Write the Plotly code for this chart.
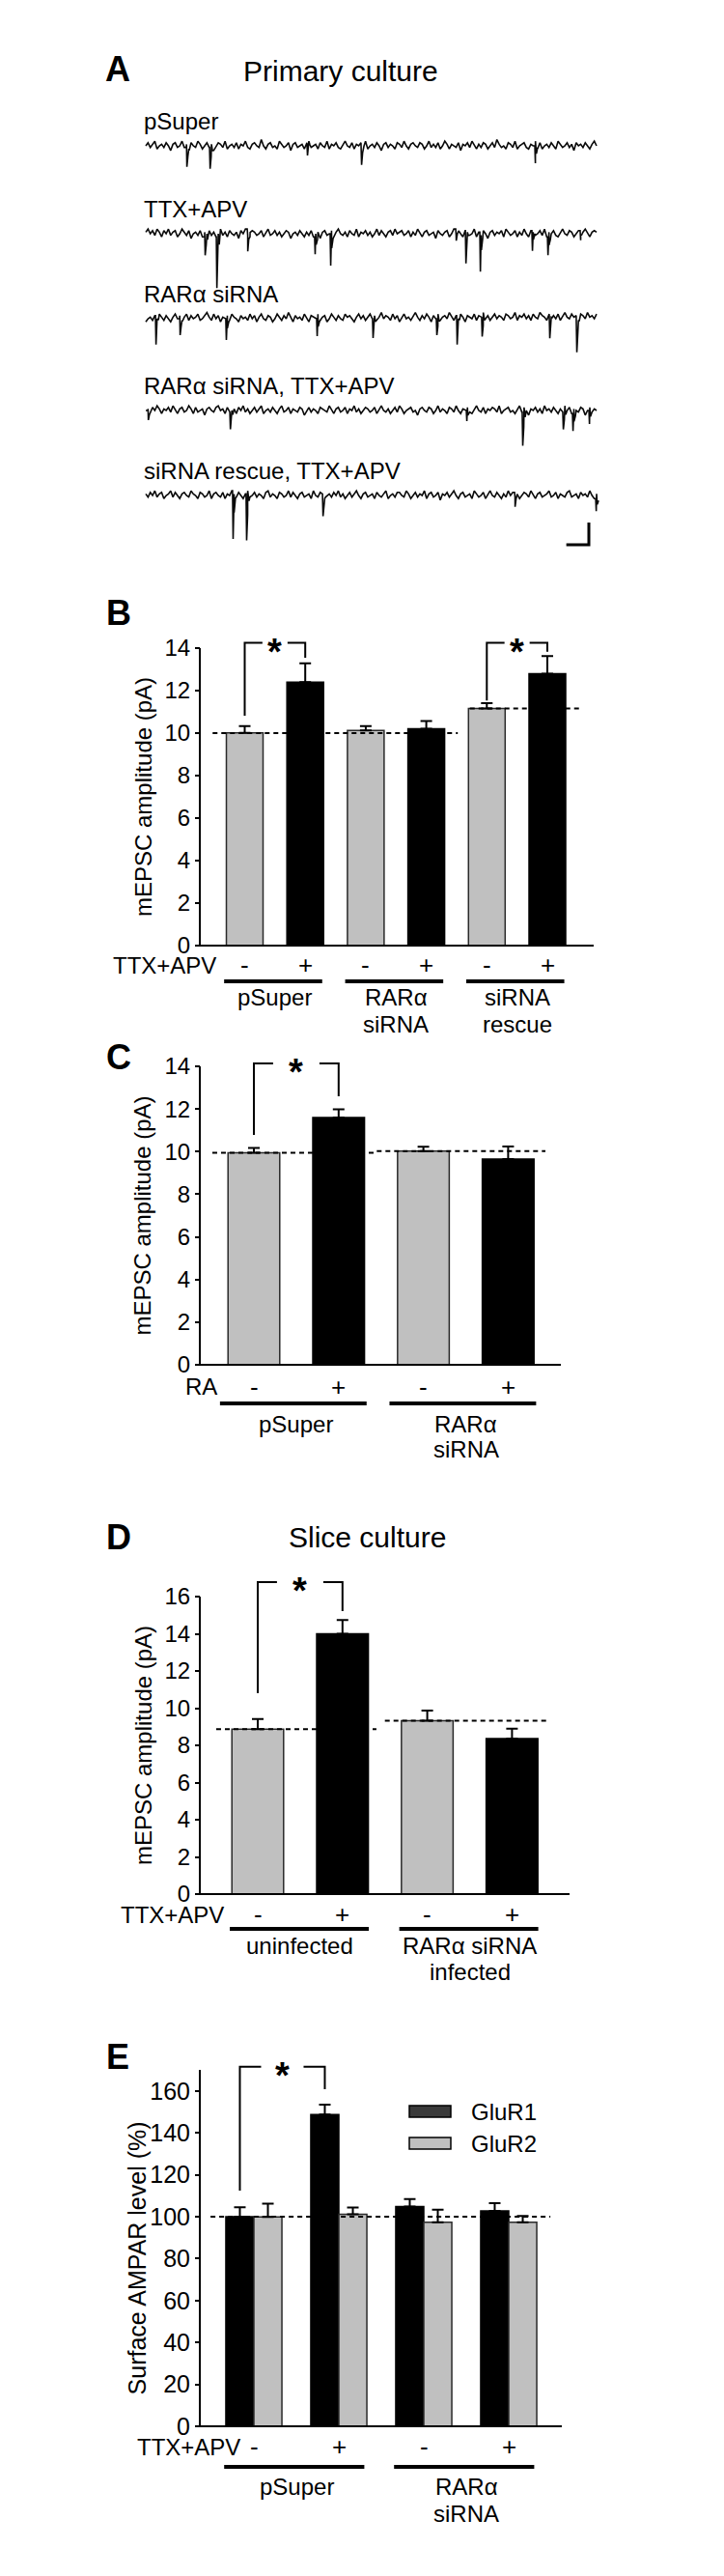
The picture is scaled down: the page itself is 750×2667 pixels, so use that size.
import plotly.graph_objects as go

W, H = 750, 2667
FONT = "Liberation Sans, Arial, Helvetica, sans-serif"
INK = "black"
GREY = "#c0c0c0"
GREY_EDGE = "#2a2a2a"

# ======================= DATA =======================
# Panel A: example mEPSC sweeps (20 s). Baseline jitter in 0.7 pA units, events (s, pA)
trace_labels = ["pSuper", "TTX+APV", "RARα siRNA", "RARα siRNA, TTX+APV", "siRNA rescue, TTX+APV"]
sweep_s = 20.0
noise_unit_pA = 0.7
noise_pSuper = [0,2,-1,1,3,-2,0,1,-1,2,0,-3,1,2,-1,0,3,-1,1,-2,
                2,0,-1,3,1,-2,0,2,-1,1,-3,0,2,1,-1,3,-2,0,1,-1,
                2,-2,1,0,3,-1,-2,1,2,0,-1,4,0,-2,1,2,-1,0,-2,3,
                1,-1,0,2,-3,1,2,-1,0,1,-2,2,3,-1,0,1,-2,2,0,-1,
                3,-2,1,0,2,-1,-2,1,3,0,-1,2,-2,1,0,2,-1,3,-2,0,
                1,-1,2,0,-3,1,2,-1,1,0,-2,2,1,-1,3,0,-2,1,2,0,
                -1,2,1,-2,0,3,-1,1,-1,2,-2,0,3,1,-2,1,0,-1,2,-3,
                1,0,2,-1,3,0,-2,1,-1,2,1,-2,0,2,-1,4,1,-1,0,-2,
                2,1,-1,3,-2,0,1,2,-1,-2,1,0,3,-1,2,-2,0,1,-1,2,
                0,-2,3,1,-1,0,2,-1,1,-3,2,0,1,-1,2,0,-2,1,3,0]
noise_ttx = [1,3,0,2,-1,3,1,-2,2,0,3,-1,1,2,-2,0,3,1,-1,2,
             -3,0,1,-1,2,-2,1,0,2,-1,1,-2,0,3,-1,1,-2,2,0,-1,
             1,-3,2,0,3,-1,-2,2,1,-1,0,2,-2,1,3,-1,0,2,-1,1,
             -2,0,2,1,-3,0,1,-1,2,0,-2,1,-1,2,-2,0,1,-3,1,2,
             -1,0,2,-2,1,3,0,-1,1,-2,2,0,-1,3,-2,1,0,2,-1,1,
             -2,0,3,-1,2,0,-2,1,2,-1,3,0,1,2,-1,0,2,-2,1,-1,
             3,0,-2,1,2,-1,0,1,-3,2,0,-1,1,2,-2,0,3,-1,1,0,
             -2,2,1,-1,0,3,-2,1,-1,2,0,-3,1,2,-1,1,0,2,-2,3,
             1,-1,0,2,-2,1,-1,3,0,-2,2,1,-1,0,2,-1,3,-2,1,0,
             2,-1,-2,1,3,0,-1,2,1,-2,0,2,-1,1,3,0,-2,1,2,1]
noise_sirna = [-2,0,1,-1,2,0,3,1,-1,2,0,-2,1,3,0,2,-1,1,3,-1,
               2,0,1,3,-1,0,2,4,1,-1,3,0,2,-2,1,0,2,-1,3,1,
               0,-2,2,0,1,-1,3,0,2,-2,1,3,0,-1,2,1,-2,0,3,1,
               -1,2,0,4,1,-2,2,0,1,-1,3,0,-2,2,1,0,3,-1,1,2,
               -2,0,3,1,-1,2,0,-1,3,1,2,0,-2,1,3,0,2,-1,1,3,
               0,2,-1,1,4,0,2,1,-1,3,0,2,-2,1,3,0,1,-1,2,4,
               1,-1,2,0,3,1,-2,2,0,3,-1,1,2,0,4,1,-1,2,0,3,
               1,-2,2,1,0,3,-1,2,1,4,0,2,-1,1,3,0,2,1,-1,3,
               2,0,1,4,-1,2,1,3,0,2,-1,3,1,0,4,2,1,-1,3,1,
               2,0,3,-1,2,4,1,0,3,1,2,-1,3,2,0,4,1,2,0,3]
noise_sirna_ttx = [0,1,-1,2,0,3,1,-2,1,0,2,-1,3,0,-2,1,2,-1,0,3,
                   1,-2,2,-1,0,1,-3,1,2,0,-1,2,3,0,1,-2,2,-1,0,1,
                   -2,2,0,3,-1,1,-2,0,2,-1,1,3,-2,0,1,-1,2,0,-2,1,
                   3,-1,0,2,-2,1,0,-1,2,1,-3,0,2,-1,1,0,-2,2,1,0,
                   -1,3,0,-2,1,2,-1,0,2,-2,1,0,3,-1,1,-2,0,2,1,-1,
                   0,2,-2,1,3,0,-1,1,-2,0,2,-1,3,1,-2,0,1,2,-1,0,
                   -3,1,2,0,-1,2,1,-2,0,3,-1,1,0,-2,2,1,-1,3,0,-2,
                   1,0,2,-1,-2,1,3,0,-1,2,-2,1,0,2,1,-1,3,-2,0,1,
                   2,-1,0,-2,1,3,-1,2,0,-3,1,0,2,-1,1,-2,3,0,1,-1,
                   2,0,-2,1,-1,3,0,2,-2,1,0,-1,2,1,-3,0,2,-1,1,0]
noise_rescue_ttx = [1,-1,2,0,3,-1,1,2,-2,0,1,3,-1,2,0,-2,1,2,0,-1,
                    3,1,0,-2,2,1,-1,0,3,-2,1,2,0,-1,2,-2,1,0,3,1,
                    -1,2,0,-2,1,3,-1,0,2,-1,1,0,-2,2,3,-1,1,0,-2,2,
                    1,-1,0,3,-1,2,0,-2,1,2,-1,0,1,-2,3,0,-1,2,1,-2,
                    0,1,-1,2,0,3,-1,1,-2,0,2,-1,1,3,0,-2,1,2,-1,0,
                    1,-2,2,0,-1,1,3,-2,0,1,-1,2,2,0,-1,3,1,-2,0,2,
                    -1,1,0,3,-2,1,2,-1,0,2,-3,1,0,2,-1,1,3,0,-2,1,
                    2,-1,0,1,-2,3,1,-1,0,2,-2,1,3,0,-1,2,0,-2,1,-1,
                    3,0,2,-1,1,-2,0,2,1,-1,3,0,-2,1,2,-1,0,1,3,-1,
                    0,2,-2,1,0,-1,2,3,-1,0,1,-2,2,0,1,-1,3,0,-2,1]
ev_t_pSuper = [1.80, 2.83, 7.15, 9.55, 17.26]
ev_a_pSuper = [8.7, 9.6, 5.7, 10.0, 7.8]
ev_t_ttx = [2.61, 3.13, 4.50, 7.49, 8.18, 13.75, 14.18, 14.82, 17.13, 17.82, 19.27]
ev_a_ttx = [8.3, 23.0, 10.0, 7.8, 14.3, 5.2, 14.8, 17.8, 9.1, 8.3, 4.3]
ev_t_sirna = [0.43, 1.50, 3.55, 7.58, 10.06, 12.89, 13.79, 14.90, 17.90, 19.10]
ev_a_sirna = [13.0, 7.4, 9.6, 7.8, 8.7, 7.4, 13.0, 8.7, 10.9, 16.5]
ev_t_sirna_ttx = [0.09, 3.73, 14.22, 16.70, 18.50, 18.93, 19.66]
ev_a_sirna_ttx = [4.3, 7.8, 4.8, 15.2, 7.8, 7.8, 6.1]
ev_t_rescue_ttx = [3.85, 4.45, 7.84, 16.36, 19.96]
ev_a_rescue_ttx = [21.7, 20.9, 10.0, 6.5, 5.7]
scalebar_pA = 10
scalebar_s = 1

# Panel B
b_cond = ["-", "+", "-", "+", "-", "+"]
b_groups = [["pSuper"], ["RARα", "siRNA"], ["siRNA", "rescue"]]
b_mean = [10.01, 12.40, 10.13, 10.21, 11.16, 12.79]
b_sem = [0.32, 0.88, 0.20, 0.36, 0.25, 0.83]
b_control = [10.0, 11.16]
b_ticks = [0, 2, 4, 6, 8, 10, 12, 14]

# Panel C
c_cond = ["-", "+", "-", "+"]
c_groups = [["pSuper"], ["RARα", "siRNA"]]
c_mean = [9.94, 11.60, 10.02, 9.65]
c_sem = [0.23, 0.38, 0.21, 0.59]
c_control = [9.94, 10.02]
c_ticks = [0, 2, 4, 6, 8, 10, 12, 14]

# Panel D
d_cond = ["-", "+", "-", "+"]
d_groups = [["uninfected"], ["RARα siRNA", "infected"]]
d_mean = [8.87, 14.00, 9.33, 8.36]
d_sem = [0.54, 0.74, 0.54, 0.54]
d_control = [8.87, 9.33]
d_ticks = [0, 2, 4, 6, 8, 10, 12, 14, 16]

# Panel E
e_cond = ["-", "+", "-", "+"]
e_groups = [["pSuper"], ["RARα", "siRNA"]]
e_series = ["GluR1", "GluR2"]
e_glur1 = [100.0, 148.7, 104.8, 102.8]
e_glur1_sem = [4.5, 4.8, 3.6, 3.7]
e_glur2 = [99.9, 101.2, 97.3, 97.3]
e_glur2_sem = [6.3, 3.2, 6.0, 3.0]
e_control = 100
e_ticks = [0, 20, 40, 60, 80, 100, 120, 140, 160]

# ======================= LAYOUT GEOMETRY =======================
AXIS_PX = 199  # y-axis line position (px)


class Panel:
    def __init__(self, n, x0, step, y0, ppu, ytop, ybot, xdom=(100, 640)):
        self.n, self.x0, self.step, self.y0, self.ppu = n, x0, step, y0, ppu
        self.ytop, self.ybot, self.xdom = ytop, ybot, xdom
        self.xa = "x" if n == 1 else "x%d" % n
        self.ya = "y" if n == 1 else "y%d" % n

    def ux(self, px):
        return (px - self.x0) / self.step

    def vy(self, py):
        return (self.y0 - py) / self.ppu

    def dy(self, dpx):  # pixel distance below zero line -> data value
        return -dpx / self.ppu


layout_axes = {}
shapes = []
annos = []


def make_axes(p, tickvals=None, tick_size=24):
    xk = "xaxis" if p.n == 1 else "xaxis%d" % p.n
    yk = "yaxis" if p.n == 1 else "yaxis%d" % p.n
    layout_axes[xk] = dict(domain=[p.xdom[0] / W, p.xdom[1] / W],
                           range=[p.ux(p.xdom[0]), p.ux(p.xdom[1])],
                           visible=False, anchor=p.ya, fixedrange=True)
    yd = dict(domain=[1 - p.ybot / H, 1 - p.ytop / H],
              range=[p.vy(p.ybot), p.vy(p.ytop)], fixedrange=True,
              showgrid=False, zeroline=False, showline=False)
    if tickvals is None:
        yd.update(visible=False, anchor=p.xa)
    else:
        yd.update(anchor="free", position=AXIS_PX / W, ticks="outside", ticklen=5,
                  tickwidth=2, tickcolor=INK, tickvals=tickvals,
                  tickfont=dict(family=FONT, size=tick_size, color=INK))
    layout_axes[yk] = yd


def line(p, x0, y0, x1, y1, width=2, dash=None, color=INK):
    d = dict(type="line", xref=p.xa, yref=p.ya, x0=x0, y0=y0, x1=x1, y1=y1,
             line=dict(color=color, width=width))
    if dash:
        d["line"]["dash"] = dash
    shapes.append(d)


def text(p, x, y, s, size=24, xanchor="center", bold=False, yshift=0, angle=0, xref=None):
    annos.append(dict(x=x, y=y, xref=xref or p.xa, yref=p.ya, text=("<b>%s</b>" % s) if bold else s,
                      showarrow=False, xanchor=xanchor, yanchor="middle", yshift=yshift,
                      textangle=angle, borderpad=0,
                      font=dict(family=FONT, size=size, color=INK)))


def paper_text(xpx, ypx, s, size, bold=False):
    annos.append(dict(x=xpx / W, y=1 - ypx / H, xref="paper", yref="paper",
                      text=("<b>%s</b>" % s) if bold else s, showarrow=False,
                      xanchor="center", yanchor="middle",
                      font=dict(family=FONT, size=size, color=INK)))


def frame(p, top, xend_px):
    ax = p.ux(AXIS_PX)
    line(p, ax, 0, ax, top)
    line(p, p.ux(AXIS_PX - 5), 0, p.ux(xend_px), 0)


def bracket(p, xl, xr, ybl, ytop, ybr, gap_px, star_size=38):
    mid = (xl + xr) / 2
    g = gap_px / p.step
    fig.add_trace(go.Scatter(x=[xl, xl, mid - g, None, mid + g, xr, xr],
                             y=[ybl, ytop, ytop, None, ytop, ytop, ybr],
                             mode="lines", line=dict(color=INK, width=2),
                             xaxis=p.xa, yaxis=p.ya, showlegend=False, hoverinfo="skip"))
    text(p, mid, ytop, "*", size=star_size, bold=True, yshift=-9)


def row_labels(p, cond, positions, row_name, name_right_px, row_dpx, size=26):
    y = p.dy(row_dpx)
    text(p, p.ux(name_right_px), y, row_name, size=24, xanchor="right")
    for xi, c in zip(positions, cond):
        text(p, xi, y, c, size=size)


def group_labels(p, groups, line_dpx, l1_dpx, l2_dpx, pad_l, pad_r):
    for gi, g in enumerate(groups):
        a, b = 2 * gi, 2 * gi + 1
        line(p, a - pad_l, p.dy(line_dpx), b + pad_r, p.dy(line_dpx), width=4)
        c = (a + b) / 2
        text(p, c, p.dy(l1_dpx), g[0])
        if len(g) > 1:
            text(p, c, p.dy(l2_dpx), g[1])


fig = go.Figure()

# ======================= PANEL A =======================
pa = Panel(1, 143, 467 / sweep_s, 143, 2.3, 85, 598)
make_axes(pa)
trace_rows_px = [143, 234, 322, 417, 505]
EVENT_SHAPE = [(0.0, 0.0), (0.025, 1.0), (0.07, 0.45), (0.13, 0.15)]
sweeps = [(noise_pSuper, ev_t_pSuper, ev_a_pSuper),
          (noise_ttx, ev_t_ttx, ev_a_ttx),
          (noise_sirna, ev_t_sirna, ev_a_sirna),
          (noise_sirna_ttx, ev_t_sirna_ttx, ev_a_sirna_ttx),
          (noise_rescue_ttx, ev_t_rescue_ttx, ev_a_rescue_ttx)]
for (noise, evt, eva), row_px, lab in zip(sweeps, trace_rows_px, trace_labels):
    off = pa.vy(row_px)
    n = len(noise)
    dt = sweep_s / (n - 1)
    pts = [(i * dt, off + noise_unit_pA * v) for i, v in enumerate(noise)]
    for te, amp in zip(evt, eva):
        i = min(int(te / dt), n - 1)
        base = off + noise_unit_pA * noise[i]
        for ds, frac in EVENT_SHAPE:
            pts.append((te + ds, base - amp * frac))
    pts.sort(key=lambda q: q[0])
    fig.add_trace(go.Scatter(x=[q[0] for q in pts], y=[q[1] for q in pts], mode="lines",
                             line=dict(color="#0a0a0a", width=1.6), xaxis=pa.xa, yaxis=pa.ya,
                             showlegend=False, hoverinfo="skip"))
    text(pa, pa.ux(140), pa.vy(row_px - 25), lab, size=24, xanchor="left")
# scale bar
sb_x = pa.ux(602)
sb_y = pa.vy(556)
fig.add_trace(go.Scatter(x=[sb_x - scalebar_s, sb_x, sb_x], y=[sb_y, sb_y, sb_y + scalebar_pA],
                         mode="lines", line=dict(color=INK, width=3), xaxis=pa.xa, yaxis=pa.ya,
                         showlegend=False, hoverinfo="skip"))
paper_text(114, 64, "A", 36, bold=True)
paper_text(345, 65, "Primary culture", 30)


def simple_bars(p, cond, mean, sem, width):
    xs = list(range(len(mean)))
    cols = [GREY if c == "-" else INK for c in cond]
    edges = [GREY_EDGE if c == "-" else INK for c in cond]
    fig.add_trace(go.Bar(x=xs, y=mean, width=width,
                         marker=dict(color=cols, line=dict(color=edges, width=1.5)),
                         error_y=dict(type="data", symmetric=False, array=sem,
                                      arrayminus=[0] * len(sem), color=INK, thickness=2, width=6),
                         xaxis=p.xa, yaxis=p.ya, showlegend=False, hoverinfo="skip"))
    return xs


# ======================= PANEL B =======================
pb = Panel(2, 245.5, 62.7, 971, 22.0, 600, 1064)
make_axes(pb, b_ticks)
xs = simple_bars(pb, b_cond, b_mean, b_sem, 0.606)
frame(pb, b_ticks[-1], 607)
for lvl, (xa, xb) in zip(b_control, [(-0.53, 3.52), (3.72, 5.54)]):
    line(pb, xa, lvl, xb, lvl, dash="5px,4px")
bracket(pb, 0, 1, 10.82, 14.25, 13.55, 13)
bracket(pb, 4, 5, 11.53, 14.25, 13.83, 13)
row_labels(pb, b_cond, xs, "TTX+APV", 217, 20)
group_labels(pb, b_groups, 37, 53, 81, 0.34, 0.28)
text(pb, 140 / W, b_ticks[-1] / 2, "mEPSC amplitude (pA)", size=24, angle=-90, xref="paper")
paper_text(115, 626, "B", 36, bold=True)

# ======================= PANEL C =======================
pc = Panel(3, 255, 87.8, 1405, 22.07, 1066, 1530)
make_axes(pc, c_ticks)
xs = simple_bars(pc, c_cond, c_mean, c_sem, 0.61)
frame(pc, c_ticks[-1], 573)
for lvl, (xa, xb) in zip(c_control, [(-0.49, 1.45), (1.45, 3.44)]):
    line(pc, xa, lvl, xb, lvl, dash="5px,4px")
bracket(pc, 0, 1, 10.78, 14.14, 12.6, 24)
row_labels(pc, c_cond, xs, "RA", 218, 23)
group_labels(pc, c_groups, 40, 62, 88, 0.4, 0.33)
text(pc, 140 / W, c_ticks[-1] / 2, "mEPSC amplitude (pA)", size=24, angle=-90, xref="paper")
paper_text(115, 1086, "C", 36, bold=True)

# ======================= PANEL D =======================
pd_ = Panel(4, 259, 87.8, 1953, 19.25, 1540, 2062)
make_axes(pd_, d_ticks)
xs = simple_bars(pd_, d_cond, d_mean, d_sem, 0.61)
frame(pd_, d_ticks[-1], 582)
for lvl, (xa, xb) in zip(d_control, [(-0.49, 1.40), (1.50, 3.42)]):
    line(pd_, xa, lvl, xb, lvl, dash="5px,4px")
bracket(pd_, 0, 1, 10.81, 16.78, 15.22, 24)
row_labels(pd_, d_cond, xs, "TTX+APV", 225, 21)
group_labels(pd_, d_groups, 36, 53, 80, 0.33, 0.31)
text(pd_, 140 / W, d_ticks[-1] / 2, "mEPSC amplitude (pA)", size=24, angle=-90, xref="paper")
paper_text(115, 1583, "D", 36, bold=True)
paper_text(372, 1583, "Slice culture", 30)

# ======================= PANEL E =======================
pe = Panel(5, 255, 88.0, 2504, 2.17, 2064, 2640)
make_axes(pe, e_ticks, tick_size=25)
xs = list(range(len(e_glur1)))
bw = 0.33
fig.add_trace(go.Bar(x=xs, y=e_glur1, width=bw, offset=-bw,
                     marker=dict(color=INK, line=dict(color=INK, width=1.5)),
                     error_y=dict(type="data", symmetric=False, array=e_glur1_sem,
                                  arrayminus=[0] * 4, color=INK, thickness=2, width=6),
                     xaxis=pe.xa, yaxis=pe.ya, showlegend=False, hoverinfo="skip"))
fig.add_trace(go.Bar(x=xs, y=e_glur2, width=bw, offset=0,
                     marker=dict(color=GREY, line=dict(color=GREY_EDGE, width=1.5)),
                     error_y=dict(type="data", symmetric=False, array=e_glur2_sem,
                                  arrayminus=[0] * 4, color=INK, thickness=2, width=6),
                     xaxis=pe.xa, yaxis=pe.ya, showlegend=False, hoverinfo="skip"))
frame(pe, 170, 574)
line(pe, -0.51, e_control, 3.49, e_control, dash="5px,4px")
bracket(pe, -bw / 2, 1 - bw / 2, 112.4, 171.5, 160.8, 22)
row_labels(pe, e_cond, xs, "TTX+APV", 242, 21)
group_labels(pe, e_groups, 42, 62, 90, 0.35, 0.3)
text(pe, 134 / W, 80, "Surface AMPAR level (%)", size=25, angle=-90, xref="paper")
# legend
for name, col, ypx in zip(e_series, ["#3a3a3a", GREY], [2178, 2211]):
    yc = pe.vy(ypx)
    h = 6 / pe.ppu
    shapes.append(dict(type="rect", xref=pe.xa, yref=pe.ya, x0=pe.ux(416), x1=pe.ux(459),
                       y0=yc - h, y1=yc + h, fillcolor=col, line=dict(color=INK, width=1.5)))
    text(pe, pe.ux(479), yc, name, size=24, xanchor="left")
paper_text(114, 2121, "E", 36, bold=True)

fig.update_layout(width=W, height=H, margin=dict(l=0, r=0, t=0, b=0),
                  paper_bgcolor="white", plot_bgcolor="rgba(0,0,0,0)",
                  barmode="overlay", showlegend=False,
                  shapes=shapes, annotations=annos, **layout_axes)
fig.write_html("out.html")
